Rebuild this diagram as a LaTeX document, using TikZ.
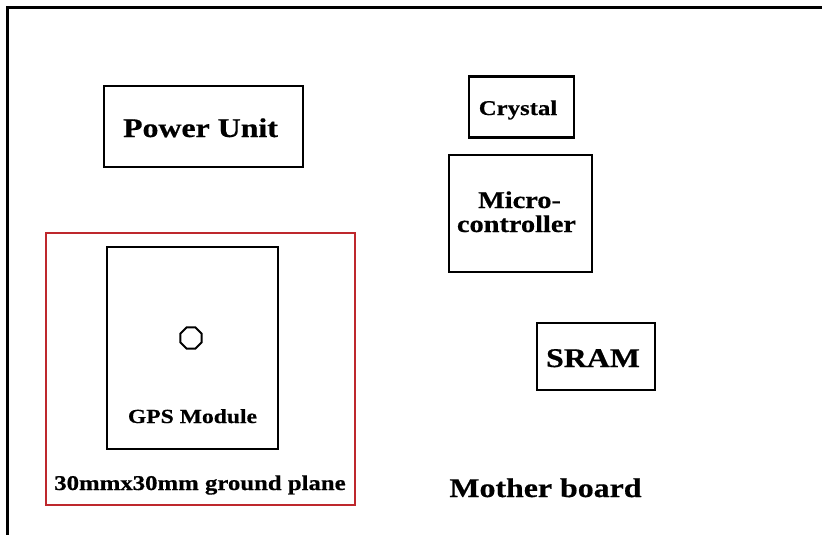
\documentclass[tikz,border=0pt]{standalone}
\usepackage{fontspec}
\newfontfamily\lblfont[FakeStretch=1.18,FakeBold=0.6]{Liberation Serif}
\usetikzlibrary{shapes.geometric}
\definecolor{planered}{RGB}{190,40,45}
\begin{document}
\begin{tikzpicture}[x=1pt,y=-1pt,
  blockbox/.style={draw=black,line width=2.6pt,rectangle,inner sep=0pt,outer sep=0pt},
  lbl/.style={font=\lblfont\bfseries\fontsize{#1}{#1}\selectfont},
  plain/.style={inner sep=0pt,anchor=base}]
\useasboundingbox (0,0) rectangle (822,535);
\fill[white] (0,0) rectangle (822,535);
% frame (only top and left edges visible)
\coordinate (fbl) at (7,536);
\coordinate (ftl) at (7,8);
\coordinate (ftr) at (823,8);
\draw[line width=3pt] (fbl) -- (ftl) -- (ftr);
% blocks
\node[blockbox,minimum width=199pt,minimum height=81pt] (power) at (203.5,126.5) {};
\node[plain,lbl=27] (powertxt) at (200.5,137) {Power Unit};
\node[blockbox,minimum width=105pt,minimum height=61pt] (crystal) at (521.5,107) {};
\node[plain,lbl=21] (crystaltxt) at (518,115) {Crystal};
\node[blockbox,minimum width=143pt,minimum height=117pt] (micro) at (520.5,213.5) {};
\node[plain,lbl=24] (microtxt1) at (519.5,208) {Micro-};
\node[plain,lbl=24] (microtxt2) at (516.5,232) {controller};
\node[blockbox,minimum width=118pt,minimum height=67pt] (sram) at (596,356.5) {};
\node[plain,lbl=27] (sramtxt) at (593,367) {SRAM};
% ground plane and GPS module
\node[draw=planered,line width=2pt,rectangle,outer sep=0pt,minimum width=309pt,minimum height=272pt] (plane) at (200.5,369) {};
\node[blockbox,minimum width=171pt,minimum height=202pt] (gps) at (192.5,348) {};
\node[draw=black,line width=2pt,regular polygon,regular polygon sides=8,minimum size=23pt,inner sep=0pt] (ant) at (191,338) {};
\node[plain,lbl=20] (gpstxt) at (192.5,423) {GPS Module};
\node[plain,lbl=21] (planetxt) at (200,490) {30mmx30mm ground plane};
\node[plain,lbl=27] (mother) at (545.5,497) {Mother board};
\end{tikzpicture}
\end{document}
